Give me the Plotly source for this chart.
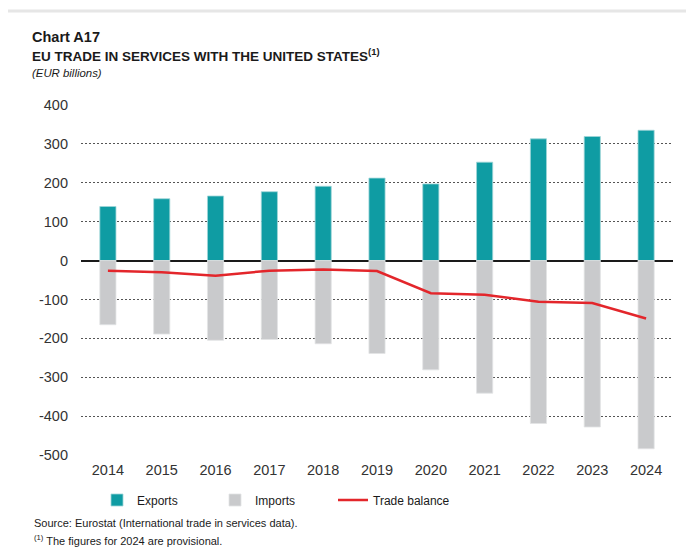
import plotly.graph_objects as go

# values (EUR billions)
years = ["2014", "2015", "2016", "2017", "2018", "2019", "2020", "2021", "2022", "2023", "2024"]
exports = [139, 159, 166, 177, 191, 212, 197, 253, 313, 319, 335]
imports = [-165, -189, -205, -203, -214, -239, -281, -341, -419, -428, -484]
trade_balance = [-26, -30, -39, -26, -23, -27, -84, -88, -106, -109, -149]
y_ticks = [400, 300, 200, 100, 0, -100, -200, -300, -400, -500]
y_tick_labels = ["400", "300", "200", "100", "0", "-100", "-200", "-300", "-400", "-500"]

TEAL = "#0f9ca3"
GREY = "#c9cacc"
RED = "#e3262b"
TEXT = "Liberation Sans, Arial"
INK = "#1a1a1a"

# the page body has an 8px margin, so the figure starts at (8, 8)
OFF = 8
# plot area in page pixels (used to place the text around it)
L, R, T, B = 81, 673, 105, 455
W, H = R - L, B - T


def px(x):
    return (x - L) / W


def py(y):
    return (B - y) / H


fig = go.Figure()
fig.add_trace(go.Bar(
    x=years, y=exports, name="Exports",
    marker=dict(color=TEAL, line=dict(color="#9fd6d8", width=0.8)),
))
fig.add_trace(go.Bar(
    x=years, y=imports, name="Imports",
    marker=dict(color=GREY, line=dict(color="#e2e3e4", width=0.8)),
))
fig.add_trace(go.Scatter(
    x=years, y=trade_balance, name="Trade balance", mode="lines",
    line=dict(color=RED, width=2.5),
))

annotations = [
    dict(text="<b>Chart A17</b>", x=px(30), y=py(37),
         font=dict(size=14.5, family=TEXT, color=INK)),
    dict(text="<b>EU TRADE IN SERVICES WITH THE UNITED STATES<sup>(1)</sup></b>",
         x=px(30), y=py(55), font=dict(size=13.5, family=TEXT, color=INK)),
    dict(text="<i>(EUR billions)</i>", x=px(30), y=py(73),
         font=dict(size=11.4, family=TEXT, color=INK)),
    dict(text="Source: Eurostat (International trade in services data).",
         x=px(32), y=py(523), font=dict(size=11, family=TEXT, color=INK)),
    dict(text="<sup>(1)</sup> The figures for 2024 are provisional.",
         x=px(32), y=py(540), font=dict(size=11, family=TEXT, color=INK)),
]
for a in annotations:
    a.update(xref="paper", yref="paper", xanchor="left", yanchor="middle",
             showarrow=False)

fig.update_layout(
    width=694 - OFF, height=549 - OFF,
    margin=dict(l=L - OFF, r=694 - R, t=T - OFF, b=549 - B),
    paper_bgcolor="white", plot_bgcolor="white",
    barmode="relative", bargap=0.7,
    font=dict(family=TEXT, size=14, color="#333333"),
    annotations=annotations,
    shapes=[dict(type="rect", xref="paper", yref="paper",
                 x0=px(5), x1=px(720), y0=py(600), y1=py(11),
                 line=dict(color="#e6e6e6", width=3), layer="below")],
    legend=dict(orientation="h", x=px(97), xanchor="left", y=py(500),
                yanchor="middle", entrywidth=73, entrywidthmode="pixels",
                font=dict(family=TEXT, size=12, color=INK),
                traceorder="normal"),
    xaxis=dict(range=[-0.5, 10.5], showgrid=False, ticks="", showline=False,
               tickfont=dict(size=14.5), ticklabelstandoff=4),
    yaxis=dict(range=[-500, 400], tickvals=y_ticks, ticktext=y_tick_labels,
               showgrid=True, gridcolor="#555555", griddash="2px,2px",
               gridwidth=1, zeroline=True, zerolinecolor="#1a1a1a",
               zerolinewidth=2, tickfont=dict(size=14.5), ticklabelstandoff=12),
)

fig.write_html("out.html")
